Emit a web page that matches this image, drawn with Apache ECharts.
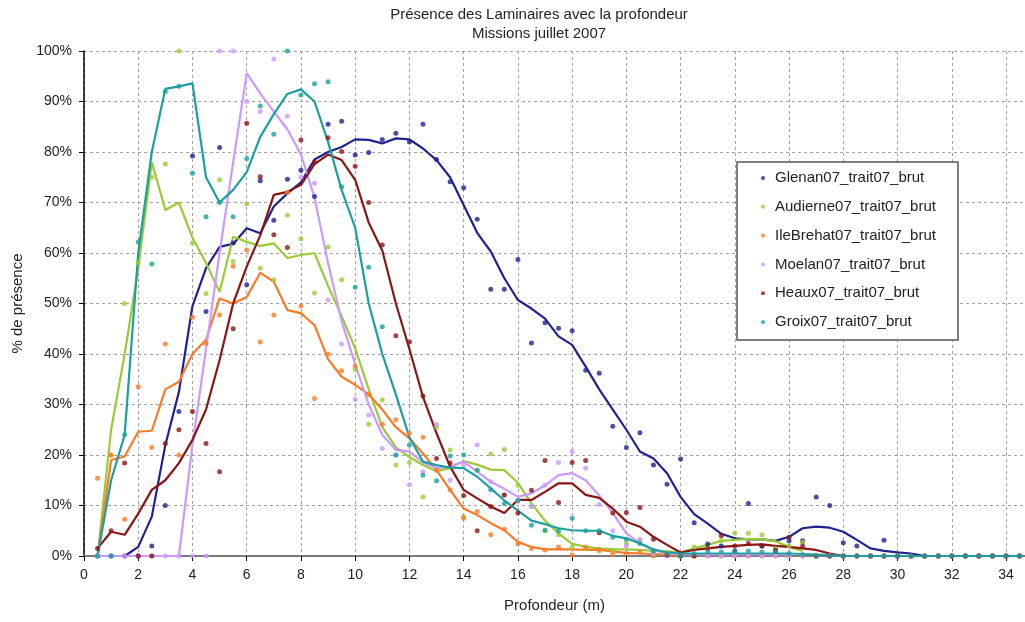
<!DOCTYPE html>
<html>
<head>
<meta charset="utf-8">
<script src="https://cdn.jsdelivr.net/npm/echarts@6/dist/echarts.min.js"></script>
<style>
  html, body { margin: 0; padding: 0; background: #fff; }
  #chart { width: 1025px; height: 622px; }
</style>
</head>
<body>
<div id="chart"></div>
<script>
// Sampling depths (m)
const depth = [
  0.5, 1, 1.5, 2, 2.5, 3, 3.5, 4, 4.5, 5,
  5.5, 6, 6.5, 7, 7.5, 8, 8.5, 9, 9.5, 10,
  10.5, 11, 11.5, 12, 12.5, 13, 13.5, 14, 14.5, 15,
  15.5, 16, 16.5, 17, 17.5, 18, 18.5, 19, 19.5, 20,
  20.5, 21, 21.5, 22, 22.5, 23, 23.5, 24, 24.5, 25,
  25.5, 26, 26.5, 27, 27.5, 28, 28.5, 29, 29.5, 30,
  30.5, 31, 31.5, 32, 32.5, 33, 33.5, 34, 34.5
];

// Raw presence (%) per depth, one array per site
const glenanPts = [
  0, 0, 0, 0, 2, 10, 28.6, 79.2, 48.4, 80.9,
  62, 53.7, 74.3, 66.5, 74.6, 76.4, 71.2, 85.5, 86.1, 79.4,
  79.9, 82.5, 83.7, 82, 85.5, 78.5, 74.1, 72.9, 66.7, 52.8,
  52.8, 58.7, 42.2, 46.2, 45.1, 44.6, 36.8, 36.2, 25.7, 21.5,
  24.4, 18, 14.2, 19.2, 6.6, 2.4, 2, 1, 10.4, 2,
  1, 3, 3, 11.7, 10, 2.6, 2, 0, 3.1, 0,
  0, 0, 0, 0, 0, 0, 0, 0, 0
];
const audPts = [
  0, 20, 50, 58, 75, 77.6, 100, 62, 52, 74.5,
  58.3, 69.7, 57, 54.7, 67.5, 62.8, 52.1, 61.2, 54.7, 37,
  26.1, 30.9, 18, 18.5, 11.7, 25.5, 21, 7.8, 17, 20.2,
  21.1, 14, 9.8, 5, 4.2, 1.8, 1.5, 1, 1, 2.5,
  3.2, 0.5, 0.5, 0, 1.8, 1.5, 3, 4.5, 4.5, 4.2,
  1.5, 2, 2.7, 0, 0, 0, 0, 0, 0, 0,
  0, 0, 0, 0, 0, 0, 0, 0, 0
];
const brehatPts = [
  15.4, 20, 7.3, 33.5, 21.5, 42, 20, 47.3, 42.1, 47.7,
  57.4, 60.6, 42.4, 47.7, 72, 49.5, 31.2, 40, 36.7, 37.6,
  32, 26.1, 27, 24.3, 23.5, 17, 13.1, 7.5, 8.8, 4.2,
  5.3, 2.4, 1.5, 1.2, 1.8, 0.2, 1.8, 1.3, 0.3, 0.5,
  0.8, 0, 0.3, 0, 0, 0, 0, 0, 0, 0,
  0, 0, 0, 0, 0, 0, 0, 0, 0, 0,
  0, 0, 0, 0, 0, 0, 0, 0, 0
];
const moelanPts = [
  0, 0, 0, 0, 0, 0, 0, 0, 0, 100,
  100, 90, 88, 98.4, 87.1, 75, 73.8, 50.7, 42, 31,
  27.9, 21.3, 20, 14.1, 16.7, 26.1, 15, 18, 22, 14.7,
  12.1, 11, 9.8, 14, 18.5, 20.7, 17.4, 10.2, 5, 2,
  3.2, 0.5, 0, 0, 0, 0, 0, 0, 0, 0,
  0, 0, 0, 0, 0, 0, 0, 0, 0, 0,
  0, 0, 0, 0, 0, 0, 0, 0, 0
];
const heauxPts = [
  1.5, 5, 18.4, 0, 0, 22.3, 25, 28.6, 22.3, 16.7,
  45, 85.7, 75.1, 63.6, 61.1, 82.4, 78, 82.8, 80.1, 77.2,
  70, 61.6, 43.6, 42.4, 31.7, 19.3, 18.4, 12, 5, 9.8,
  12.1, 8.5, 13, 18.9, 10.6, 18.5, 18.9, 4.6, 8.5, 8.6,
  9.6, 3.3, 0.2, 0, 0, 1.5, 4, 2, 2.5, 2,
  1.2, 3.7, 2, 0, 0, 0, 0, 0, 0, 0,
  0, 0, 0, 0, 0, 0, 0, 0, 0
];
const groixPts = [
  0, 0, 24, 62.2, 57.8, 92, 93, 75.8, 67.2, 70,
  67.2, 78.7, 89.1, 83.5, 100, 91.3, 93.5, 93.9, 73.1, 53.2,
  57.2, 45.4, 20, 22, 16, 14.9, 19.8, 20, 17, 13.1,
  10.4, 11, 6.1, 5.1, 5, 7.5, 5, 5, 3.7, 3.3,
  2.5, 1, 0.5, 0, 0.5, 0.8, 0.8, 0.8, 1, 0.8,
  0.8, 0.5, 0.3, 0, 0, 0, 0, 0, 0, 0,
  0, 0, 0, 0, 0, 0, 0, 0, 0
];

// Moving-average trend (%) per depth; null where no trend is drawn
const glenanAvg = [
  null, null, 0, 1.8, 7.8, 22, 32.5, 49.5, 57, 61.2,
  61.8, 64.9, 63.9, 69.2, 71.8, 74, 78.5, 80, 81, 82.5,
  82.4, 81.7, 82.7, 82.5, 80.7, 78.4, 75, 69.5, 64, 60.3,
  55, 50.7, 49, 47, 43.5, 41.8, 37.5, 33, 29, 25,
  20.7, 19.3, 16.4, 11.7, 8.3, 6.4, 4.4, 3.5, 3.3, 3.3,
  3.0, 3.8, 5.5, 5.8, 5.6, 4.8, 3.2, 1.5, 1.0, 0.7,
  0.5, 0
];
const audAvg = [
  0, 25, 40, 57, 78, 68.5, 70, 63, 58, 52.3,
  63.2, 62.2, 61.4, 61.9, 59, 59.6, 60, 53.5, 47.5, 41.1,
  33, 25.5, 21.5, 19.6, 18, 16.8, 17.4, 18.8, 18.1, 17.1,
  17, 14.5, 10.4, 7, 4.5, 2.4, 1.8, 1.5, 1.3, 1.3,
  1.2, 1.0, 0.9, 0.7, 1.5, 2.2, 3.0, 3.2, 3.4, 3.3,
  2.9, 1.8, 1.0
];
const brehatAvg = [
  0, 19, 19.7, 24.6, 24.8, 33, 34.5, 40, 42.8, 51,
  50, 51.3, 56.1, 54.3, 48.7, 48.1, 45.7, 39, 35.5, 33.9,
  32, 29, 25.5, 23.3, 20.3, 17, 13.1, 9.4, 8.1, 6.5,
  5.1, 2.8, 1.8, 1.3, 1.3, 1.3, 1.2, 1.2, 0.9, 0.6,
  0.5, 0.4, 0.3, 0.2
];
const moelanAvg = [
  0, 0, 0, 0, 0, 0, 0, 22, 41, 60,
  78, 95.6, 91.6, 88, 84.5, 79.5, 71, 58, 46.5, 38,
  30, 24, 21, 20.7, 18.5, 17.4, 17.7, 18.7, 16.7, 14.7,
  13.3, 11.7, 12.4, 14, 16, 16.4, 15, 12, 8.5, 4.5,
  2.5, 1.2, 0.5, 0.3, 0.3, 0.3, 0.3, 0.3, 0.3, 0.3,
  0.3, 0.3
];
const heauxAvg = [
  1.5, 4.8, 4.2, 8.4, 13.1, 15, 18.4, 23, 29, 38.8,
  50, 57.3, 63.5, 71.5, 72.1, 73.5, 77.6, 79.5, 78.4, 74.5,
  66, 60.5, 50, 41, 31.5, 24.3, 17.7, 13.1, 11.4, 9.8,
  8.5, 11.1, 11.1, 12.7, 14.4, 14.4, 12.1, 11.5, 9.4, 6.8,
  5.8, 3.8, 2.2, 0.7, 1.2, 1.5, 1.8, 2.0, 2.2, 2.3,
  2.0, 1.8, 1.5, 1.2, 0.5, 0
];
const groixAvg = [
  0, 15, 24, 60, 80, 92.5, 93, 93.6, 75, 70,
  72.5, 76, 83, 87.5, 91.5, 92.4, 90, 82, 72.5, 65,
  50, 40, 32, 23.5, 18.7, 18, 17.5, 17.4, 15.7, 13.4,
  11, 9, 7, 6.3, 5.5, 5.1, 5, 5, 4, 3.5,
  2.5, 1.3, 0.7, 0.5, 0.5, 0.5, 0.5, 0.5, 0.5, 0.5,
  0.5, 0.5, 0.4, 0.3, 0.2, 0, 0, 0, 0, 0,
  0, 0, 0, 0, 0, 0, 0, 0, 0
];

const siteNames = [
  'Glenan07_trait07_brut',
  'Audierne07_trait07_brut',
  'IleBrehat07_trait07_brut',
  'Moelan07_trait07_brut',
  'Heaux07_trait07_brut',
  'Groix07_trait07_brut'
];
const xTicks = [0, 2, 4, 6, 8, 10, 12, 14, 16, 18, 20, 22, 24, 26, 28, 30, 32, 34];

const sites = [
  { name: siteNames[0], pts: glenanPts, avg: glenanAvg, color: '#1f2290' },
  { name: siteNames[1], pts: audPts,    avg: audAvg,    color: '#9acb34' },
  { name: siteNames[2], pts: brehatPts, avg: brehatAvg, color: '#fb7a26' },
  { name: siteNames[3], pts: moelanPts, avg: moelanAvg, color: '#cc99ff' },
  { name: siteNames[4], pts: heauxPts,  avg: heauxAvg,  color: '#8b1515' },
  { name: siteNames[5], pts: groixPts,  avg: groixAvg,  color: '#1aa0a0' }
];

function pairs(values) {
  const out = [];
  for (let i = 0; i < values.length && i < depth.length; i++) {
    if (values[i] !== null) out.push([depth[i], values[i]]);
  }
  return out;
}

const FONT = '"Liberation Sans", Arial, sans-serif';
const series = [];
sites.forEach(function (s) {
  series.push({
    type: 'line',
    name: s.name + ' moyenne',
    data: pairs(s.avg),
    showSymbol: false,
    silent: true,
    lineStyle: { color: s.color, width: 2.2 },
    itemStyle: { color: s.color },
    z: 2
  });
});
sites.forEach(function (s) {
  series.push({
    type: 'scatter',
    name: s.name,
    data: pairs(s.pts),
    symbol: 'circle',
    symbolSize: 5,
    itemStyle: { color: s.color },
    z: 3
  });
});

const chart = echarts.init(document.getElementById('chart'), null, { renderer: 'canvas' });
chart.setOption({
  animation: false,
  backgroundColor: '#ffffff',
  textStyle: { fontFamily: FONT },
  grid: { left: 84, right: 0, top: 51, bottom: 66 },
  graphic: [
    { type: 'text', x: 539, y: 15, style: { text: 'Présence des Laminaires avec la profondeur', font: '15px ' + FONT, fill: '#222', textAlign: 'center', textVerticalAlign: 'middle' } },
    { type: 'text', x: 539, y: 34, style: { text: 'Missions juillet 2007', font: '15px ' + FONT, fill: '#222', textAlign: 'center', textVerticalAlign: 'middle' } }
  ],
  legend: {
    data: siteNames,
    orient: 'vertical',
    left: 737,
    top: 162,
    padding: [8, 22, 10, 24],
    itemWidth: 4,
    itemHeight: 16,
    itemGap: 12.8,
    icon: 'circle',
    backgroundColor: '#ffffff',
    borderColor: '#555555',
    borderWidth: 1.5,
    textStyle: { fontSize: 15, color: '#222', fontFamily: FONT, padding: [0, 0, 0, 5], lineHeight: 16 }
  },
  xAxis: [
    {
      type: 'value',
      min: 0,
      max: 34.7,
      interval: 2,
      name: 'Profondeur (m)',
      nameLocation: 'middle',
      nameGap: 42,
      nameTextStyle: { fontSize: 15, color: '#222', fontFamily: FONT },
      axisLine: { show: true, onZero: false, lineStyle: { color: '#000', width: 1.5 } },
      axisTick: { show: true, inside: false, length: 5, lineStyle: { color: '#000' } },
      axisLabel: {
        fontSize: 14, color: '#222', margin: 12, showMaxLabel: false,
        formatter: function (v) { return xTicks.indexOf(v) >= 0 ? String(v) : ''; }
      },
      splitLine: { show: true, lineStyle: { color: '#a0a0a0', type: [3, 3], width: 1 } }
    },
    {
      type: 'value',
      position: 'top',
      min: 0,
      max: 34.7,
      axisLine: { show: true, lineStyle: { color: '#7a7a7a', width: 2 } },
      axisTick: { show: false },
      axisLabel: { show: false },
      splitLine: { show: false }
    }
  ],
  yAxis: {
    type: 'value',
    min: 0,
    max: 100,
    interval: 10,
    name: '% de présence',
    nameLocation: 'middle',
    nameGap: 58,
    nameTextStyle: { fontSize: 15, color: '#222', fontFamily: FONT },
    axisLine: { show: true, lineStyle: { color: '#000', width: 1.5 } },
    axisTick: { show: true, inside: false, length: 5, lineStyle: { color: '#000' } },
    axisLabel: { fontSize: 14, color: '#222', margin: 12, formatter: '{value}%' },
    splitLine: { show: true, lineStyle: { color: '#a0a0a0', type: [3, 3], width: 1 } }
  },
  series: series
});
</script>
</body>
</html>
